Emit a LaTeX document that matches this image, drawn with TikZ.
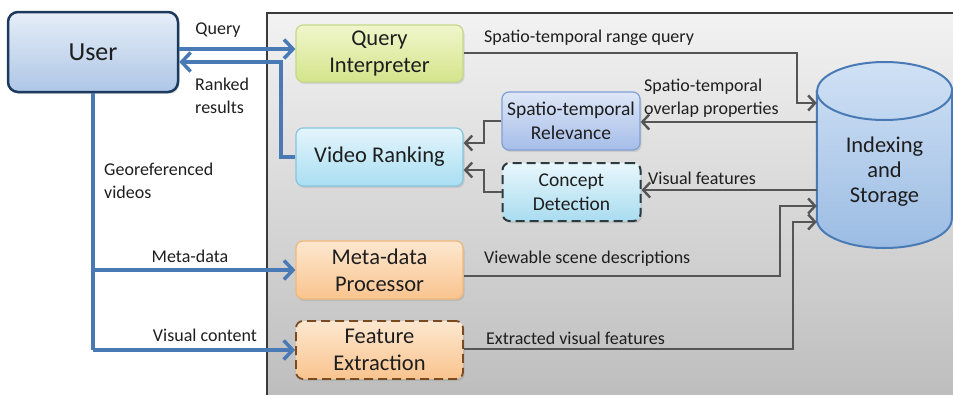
\documentclass[tikz,border=0pt]{standalone}
\usepackage{fontspec}
\setmainfont{Carlito}
\usetikzlibrary{arrows.meta,shadows,calc}

\definecolor{txt}{HTML}{1E1E1E}
\definecolor{flowblue}{HTML}{4A7AB6}
\definecolor{flowgray}{HTML}{555555}
\definecolor{panelbd}{HTML}{3A3A3A}

\tikzset{
  box/.style={rectangle, rounded corners=7pt, align=center, text=txt,
    minimum width=167pt, minimum height=57pt, line width=1.2pt,
    font=\fontsize{22.5}{27}\selectfont,
    drop shadow={opacity=0.22, shadow xshift=1.5pt, shadow yshift=-2pt}},
  smallbox/.style={box, minimum width=138pt, minimum height=58pt,
    font=\fontsize{19.5}{24}\selectfont},
  lbl/.style={inner sep=0pt, text=txt, font=\fontsize{18}{23}\selectfont, align=left},
  blueflow/.style={draw=flowblue, line width=4pt,
    -{Straight Barb[length=9pt,width=19pt,line width=3.5pt]}},
  blueline/.style={draw=flowblue, line width=4pt},
  grayflow/.style={draw=flowgray, line width=2.6pt,
    -{Straight Barb[length=7pt,width=15pt,line width=2.4pt]}},
  longdash/.style={dash pattern=on 9pt off 5pt},
}

\begin{document}
\begin{tikzpicture}[x=1pt,y=-1pt]
\useasboundingbox (0,0) rectangle (953,394);

% system panel
\path[draw=panelbd, line width=1.3pt, top color=black!5, bottom color=black!26]
  (267,13) rectangle (962,402);

% components
\node[box, minimum width=170pt, minimum height=80pt, rounded corners=10pt,
  draw={rgb,255:red,28;green,58;blue,94}, line width=2.5pt, top color={rgb,255:red,230;green,238;blue,248},
  bottom color={rgb,255:red,174;green,198;blue,230},
  font=\fontsize{26}{30}\selectfont] (user) at (93,52) {User};

\node[box, draw={rgb,255:red,197;green,216;blue,138},
  top color={rgb,255:red,240;green,246;blue,204}, bottom color={rgb,255:red,212;green,228;blue,138}]
  (qi) at (379.5,53.5) {Query\\Interpreter};

\node[box, minimum height=58pt, draw={rgb,255:red,134;green,197;blue,221},
  top color={rgb,255:red,228;green,245;blue,252}, bottom color={rgb,255:red,169;green,222;blue,242}]
  (vr) at (379.5,157) {Video Ranking};

\node[smallbox, draw={rgb,255:red,127;green,159;blue,212},
  top color={rgb,255:red,222;green,231;blue,247}, bottom color={rgb,255:red,165;green,189;blue,233}]
  (rel) at (571,121) {Spatio-temporal\\Relevance};

\node[smallbox, longdash, line width=2pt, draw={rgb,255:red,43;green,59;blue,64},
  top color={rgb,255:red,232;green,247;blue,252}, bottom color={rgb,255:red,169;green,220;blue,240}]
  (cd) at (571.5,192) {Concept\\Detection};

\node[box, minimum height=58pt, draw={rgb,255:red,242;green,184;blue,120},
  top color={rgb,255:red,253;green,231;blue,207}, bottom color={rgb,255:red,249;green,196;blue,142}]
  (mdp) at (379.5,270) {Meta-data\\Processor};

\node[box, minimum height=58pt, longdash, line width=1.8pt, draw={rgb,255:red,122;green,74;blue,32},
  top color={rgb,255:red,253;green,231;blue,207}, bottom color={rgb,255:red,249;green,196;blue,142}]
  (fe) at (379.5,350) {Feature\\Extraction};

% storage cylinder
\node[inner sep=0pt, minimum width=135pt, minimum height=186pt] (db) at (884.5,155) {};
\path[draw=flowblue, line width=2pt,
  top color={rgb,255:red,208;green,225;blue,245}, bottom color={rgb,255:red,155;green,188;blue,227}]
  (db.west |- 0,91) -- (db.west |- 0,219)
  arc[start angle=180, end angle=360, x radius=67.5pt, y radius=29pt]
  -- (db.east |- 0,91)
  arc[start angle=0, end angle=180, x radius=67.5pt, y radius=29pt] -- cycle;
\draw[flowblue, line width=2pt] (db.west |- 0,91)
  arc[start angle=180, end angle=360, x radius=67.5pt, y radius=29pt];
\node[text=txt, align=center, font=\fontsize{22.5}{25}\selectfont] (dbtext) at (884.5,172)
  {Indexing\\and\\Storage};

% user interaction
\draw[blueflow] (user.east |- 0,49) -- (qi.west |- 0,49);
\draw[blueflow] (vr.west) -| (281,62) -- (user.east |- 0,62);
\draw[blueline] (user.south) -- (93,350);
\draw[blueflow] (93,270) -- (mdp.west);
\draw[blueflow] (93,350) -- (fe.west);

% internal data flow
\draw[grayflow] (qi.east |- 0,53) -- (797,53) -- (797,103) -- (db.west |- 0,103);
\draw[grayflow] (db.west |- 0,122) -- (rel.east |- 0,122);
\draw[grayflow] (db.west |- 0,190) -- (cd.east |- 0,190);
\draw[grayflow] (rel.west) -- (484,121) -- (484,143) -- (vr.east |- 0,143);
\draw[grayflow] (cd.west) -- (484,192) -- (484,170) -- (vr.east |- 0,170);
\draw[grayflow] (mdp.east |- 0,276) -- (780,276) -- (780,206) -- (db.west |- 0,206);
\draw[grayflow] (fe.east |- 0,349) -- (793,349) -- (793,222) -- (db.west |- 0,222);

% labels
\node[lbl] (lquery) at (218,30) {Query};
\node[lbl, anchor=west] (lranked) at (195,96) {Ranked\\results};
\node[lbl, anchor=west] (lgeo) at (104,181) {Georeferenced\\videos};
\node[lbl] (lmeta) at (190,256) {Meta-data};
\node[lbl] (lvis) at (205,335) {Visual content};
\node[lbl, anchor=west] (lrange) at (484,38) {Spatio-temporal range query};
\node[lbl, anchor=west] (loverlap) at (644,98) {Spatio-temporal\\overlap properties};
\node[lbl, anchor=west] (lvf) at (648,178) {Visual features};
\node[lbl, anchor=west] (lview) at (484,259) {Viewable scene descriptions};
\node[lbl, anchor=west] (lext) at (486,338) {Extracted visual features};
\end{tikzpicture}
\end{document}
